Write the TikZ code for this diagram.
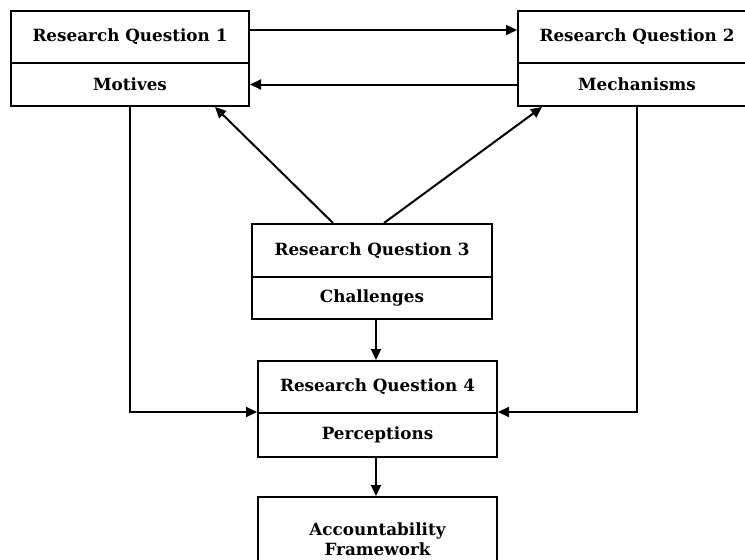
\documentclass[tikz,border=0pt]{standalone}
\usepackage{fontspec}
\setmainfont{DejaVu Serif}
\usetikzlibrary{arrows.meta}
\begin{document}
\begin{tikzpicture}[x=1pt,y=-1pt,
  box/.style={draw, line width=2pt, minimum width=238pt, inner sep=0pt,
    align=center, font=\fontsize{16.8}{20.5}\selectfont\bfseries},
  link/.style={line width=2pt, -{Triangle[length=11pt,width=10pt]}}]
\useasboundingbox (0,0) rectangle (745,560);
\clip (0,0) rectangle (745,560);
% research question boxes, each with a title part and a topic part
\node[box, minimum height=52pt] (rq1) at (130,37) {Research Question 1};
\node[box, minimum height=43pt] (mot) at (130,84.5) {Motives};
\node[box, minimum height=52pt] (rq2) at (637,37) {Research Question 2};
\node[box, minimum height=43pt] (mec) at (637,84.5) {Mechanisms};
\node[box, minimum width=240pt, minimum height=53pt] (rq3) at (372,250.5) {Research Question 3};
\node[box, minimum width=240pt, minimum height=42pt] (chl) at (372,298) {Challenges};
\node[box, minimum width=239pt, minimum height=52pt] (rq4) at (377.5,387) {Research Question 4};
\node[box, minimum width=239pt, minimum height=44pt] (per) at (377.5,435) {Perceptions};
\node[box, minimum width=239pt, minimum height=84pt] (acc) at (377.5,539) {Accountability\\Framework};
% connectors
\coordinate (mid) at (376,0);
\draw[link] ([yshift=7pt]rq1.east) -- ([yshift=7pt]rq2.west);
\draw[link] (mec.west) -- (mot.east);
\draw[link] ([xshift=82pt]rq3.north west) -- ([xshift=205pt]mot.south west);
\draw[link] ([xshift=133pt]rq3.north west) -- ([xshift=25pt]mec.south west);
\draw[link] (mot.south) |- (per.north west);
\draw[link] (mec.south) |- (per.north east);
\draw[link] (chl.south -| mid) -- (rq4.north -| mid);
\draw[link] (per.south -| mid) -- (acc.north -| mid);
\end{tikzpicture}
\end{document}
